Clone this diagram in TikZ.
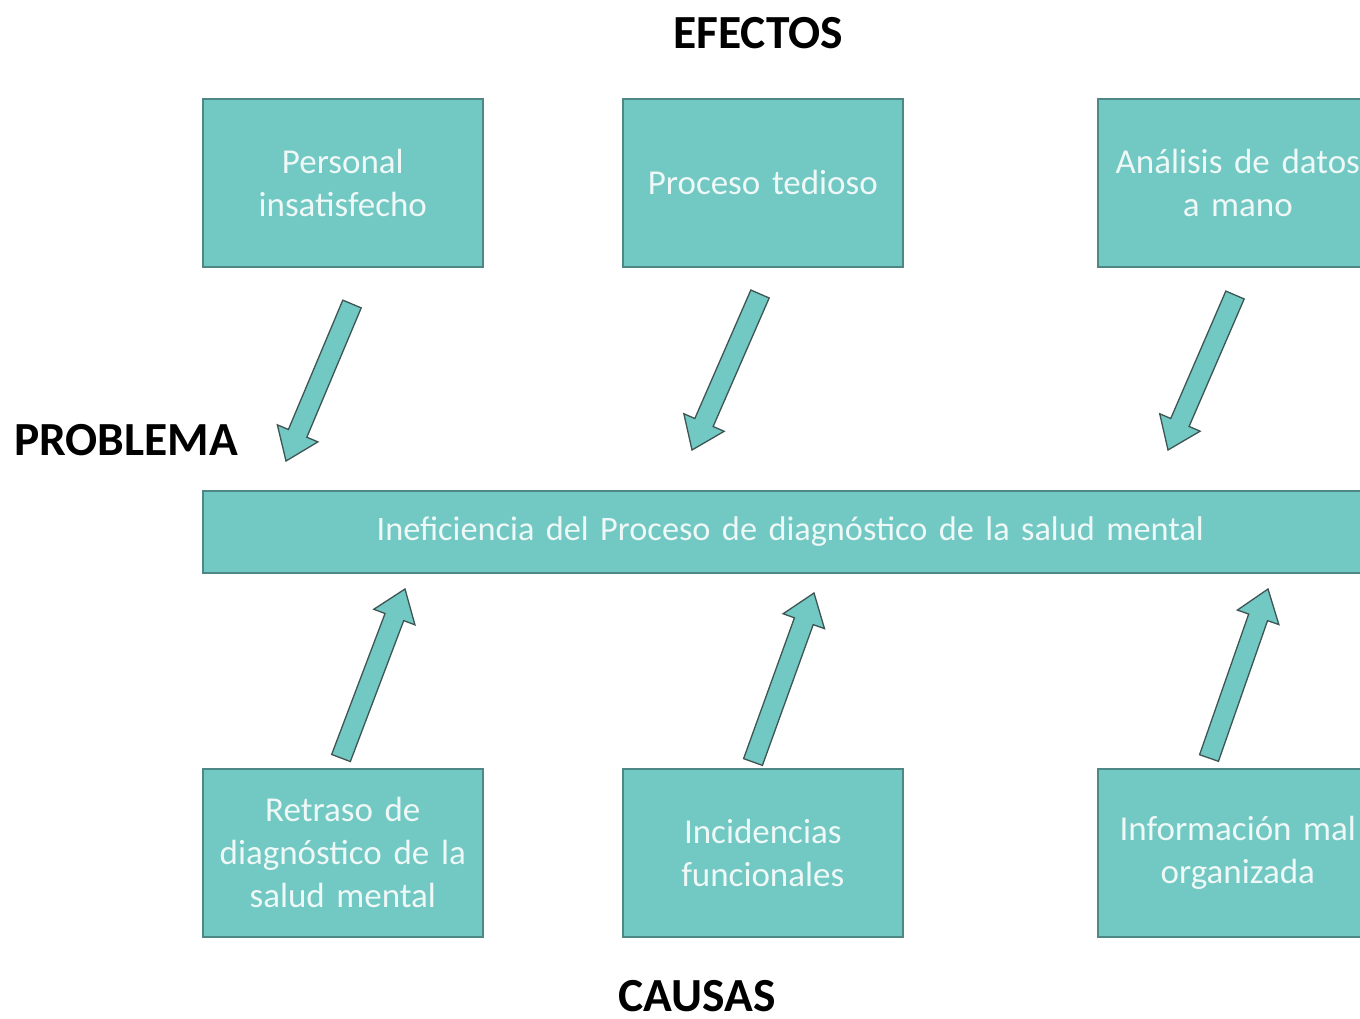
\documentclass[tikz,border=0pt]{standalone}
\usepackage{fontspec}
\setmainfont{Carlito}
\usetikzlibrary{calc}
\definecolor{tealfill}{HTML}{72C8C3}
\definecolor{tealline}{HTML}{4E8884}
\definecolor{boxtext}{HTML}{EEF8F6}
\definecolor{arrowline}{HTML}{3E5553}
\tikzset{
  box/.style={draw=tealline, line width=1.6pt, fill=tealfill, text=boxtext,
    font=\fontsize{35}{43}\selectfont, align=center, inner sep=0pt,
    anchor=north west, text width=276pt, minimum width=280pt, minimum height=168pt},
  bigbox/.style={box, font=\fontsize{34.3}{42}\selectfont, text width=1170pt, minimum width=1175pt, minimum height=82pt},
  title/.style={font=\bfseries\fontsize{47.5}{50}\selectfont, text=black, inner sep=0pt},
  blockarrow/.style={draw=arrowline, line width=1.3pt, fill=tealfill, line join=miter}
}
\newcommand{\blockarr}[2]{%
  \coordinate (hb) at ($(#2)!30pt!(#1)$);
  \path[blockarrow]
    ($(#1)!10pt!90:(#2)$) -- ($(hb)!10pt!-90:(#1)$) -- ($(hb)!22pt!-90:(#1)$)
    -- (#2) -- ($(hb)!22pt!90:(#1)$) -- ($(hb)!10pt!90:(#1)$)
    -- ($(#1)!10pt!-90:(#2)$) -- cycle;
}
\begin{document}
\begin{tikzpicture}[x=1pt,y=-1pt]
\clip (0,0) rectangle (1360,1018);
\fill[white] (0,0) rectangle (1360,1018);

\node[title] (efectos) at (758,33) {EFECTOS};
\node[title] (problema) at (126,440) {PROBLEMA};
\node[title] (causas) at (697,996) {CAUSAS};

\node[box] (e1) at (202,98) {Personal\\insatisfecho};
\node[box] (e2) at (622,98) {Proceso tedioso};
\node[box] (e3) at (1097,98) {Análisis de datos\\a mano};

\node[bigbox] (prob) at (202,490) {Ineficiencia del Proceso de diagnóstico de la salud mental};

\node[box] (c1) at (202,768) {Retraso de\\diagnóstico de la\\salud mental};
\node[box] (c2) at (622,768) {Incidencias\\funcionales};
\node[box] (c3) at (1097,768) {Información mal\\organizada};

\coordinate (a1s) at (352,304); \coordinate (a1e) at (286,461);
\coordinate (a2s) at (760,294); \coordinate (a2e) at (692,450);
\coordinate (a3s) at (1235,295); \coordinate (a3e) at (1168,450);
\coordinate (a4s) at (341,758); \coordinate (a4e) at (405,589);
\coordinate (a5s) at (753,762); \coordinate (a5e) at (814,593);
\coordinate (a6s) at (1209,758); \coordinate (a6e) at (1268,589);
\blockarr{a1s}{a1e}
\blockarr{a2s}{a2e}
\blockarr{a3s}{a3e}
\blockarr{a4s}{a4e}
\blockarr{a5s}{a5e}
\blockarr{a6s}{a6e}
\end{tikzpicture}
\end{document}
